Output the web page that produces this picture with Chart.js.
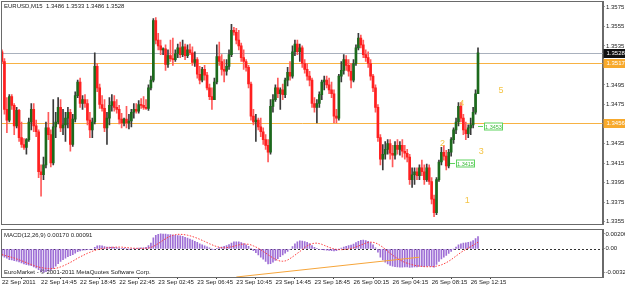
<!DOCTYPE html>
<html>
<head>
<meta charset="utf-8">
<script src="https://cdn.jsdelivr.net/npm/chart.js@4/dist/chart.umd.min.js"></script>
<style>
  html, body { margin: 0; padding: 0; background: #fff; }
  #wrap { position: relative; width: 625px; height: 288px; overflow: hidden; background: #fff; }
  #price { position: absolute; left: 0; top: 0; }
  #macd { position: absolute; left: 0; top: 228px; }
</style>
</head>
<body>
<div id="wrap">
  <canvas id="price" width="625" height="228" style="width:625px;height:228px"></canvas>
  <canvas id="macd" width="625" height="60" style="width:625px;height:60px"></canvas>
</div>
<script>
// EURUSD M15, 22 Sep 10:45 .. 26 Sep 13:00
const chartTitle = 'EURUSD,M15  1.3486 1.3533 1.3486 1.3528';
const macdTitle = 'MACD(12,26,9) 0.00170 0.00091';
const copyright = 'EuroMarket - \u00a9 2001-2011 MetaQuotes Software Corp.';

const tickLabels = ['22 Sep 2011', '22 Sep 14:45', '22 Sep 18:45', '22 Sep 22:45', '23 Sep 02:45',
  '23 Sep 06:45', '23 Sep 10:45', '23 Sep 14:45', '23 Sep 18:45', '26 Sep 00:15', '26 Sep 04:15',
  '26 Sep 08:15', '26 Sep 12:15'];
const barsPerLabel = 16;
const slotCount = 247; // visible bar slots incl. the empty shift on the right

const priceTicks = [1.3355, 1.3375, 1.3395, 1.3415, 1.3435, 1.3455, 1.3475, 1.3495, 1.3515, 1.3535, 1.3555, 1.3575];
const macdTicks = [0.00206, 0, -0.00327];

const opens = [
  1.3529,1.3519,1.3470,1.3459,1.3483,1.3474,1.3453,1.3469,1.3441,1.3434,1.3431,1.3439,1.3457,1.3470,
  1.3453,1.3447,1.3406,1.3403,1.3413,1.3451,1.3444,1.3415,1.3452,1.3457,1.3472,1.3451,1.3454,1.3461,
  1.3467,1.3434,1.3460,1.3484,1.3498,1.3476,1.3480,1.3476,1.3459,1.3449,1.3457,1.3514,1.3492,1.3475,
  1.3471,1.3451,1.3461,1.3474,1.3478,1.3472,1.3470,1.3460,1.3456,1.3460,1.3456,1.3458,1.3467,1.3470,
  1.3468,1.3475,1.3474,1.3472,1.3471,1.3492,1.3500,1.3561,1.3541,1.3535,1.3531,1.3532,1.3516,1.3525,
  1.3522,1.3521,1.3527,1.3533,1.3526,1.3534,1.3525,1.3531,1.3528,1.3518,1.3521,1.3506,1.3500,1.3511,
  1.3505,1.3492,1.3483,1.3480,1.3498,1.3524,1.3519,1.3511,1.3509,1.3514,1.3526,1.3551,1.3549,1.3541,
  1.3535,1.3523,1.3519,1.3513,1.3496,1.3463,1.3457,1.3459,1.3452,1.3447,1.3439,1.3433,1.3426,1.3473,
  1.3480,1.3492,1.3486,1.3490,1.3485,1.3500,1.3508,1.3504,1.3529,1.3537,1.3529,1.3533,1.3517,1.3511,
  1.3504,1.3500,1.3476,1.3472,1.3476,1.3485,1.3498,1.3500,1.3495,1.3490,1.3486,1.3463,1.3461,1.3504,
  1.3510,1.3521,1.3515,1.3509,1.3500,1.3517,1.3533,1.3543,1.3536,1.3526,1.3523,1.3517,1.3504,1.3492,
  1.3472,1.3441,1.3419,1.3424,1.3429,1.3435,1.3425,1.3423,1.3433,1.3429,1.3433,1.3427,1.3425,1.3421,
  1.3398,1.3403,1.3406,1.3402,1.3410,1.3406,1.3398,1.3410,1.3396,1.3378,1.3364,1.3398,1.3416,1.3426,
  1.3422,1.3412,1.3426,1.3439,1.3449,1.3457,1.3473,1.3461,1.3449,1.3445,1.3451,1.3454,1.3467,1.3486
];
const highs = [
  1.3531,1.3522,1.3482,1.3485,1.3485,1.3476,1.3472,1.3470,1.3457,1.3440,1.3440,1.3461,1.3476,1.3476,
  1.3459,1.3449,1.3413,1.3421,1.3457,1.3467,1.3449,1.3480,1.3467,1.3482,1.3480,1.3470,1.3467,1.3472,
  1.3470,1.3465,1.3488,1.3500,1.3502,1.3484,1.3485,1.3480,1.3467,1.3461,1.3528,1.3517,1.3496,1.3484,
  1.3480,1.3467,1.3482,1.3485,1.3484,1.3480,1.3474,1.3466,1.3461,1.3473,1.3465,1.3470,1.3476,1.3476,
  1.3479,1.3481,1.3483,1.3480,1.3495,1.3504,1.3563,1.3564,1.3548,1.3541,1.3533,1.3536,1.3531,1.3541,
  1.3543,1.3531,1.3537,1.3539,1.3541,1.3537,1.3536,1.3537,1.3534,1.3529,1.3523,1.3514,1.3513,1.3515,
  1.3508,1.3496,1.3492,1.3502,1.3536,1.3539,1.3526,1.3521,1.3521,1.3531,1.3557,1.3554,1.3553,1.3551,
  1.3538,1.3531,1.3521,1.3515,1.3498,1.3470,1.3465,1.3461,1.3461,1.3451,1.3444,1.3439,1.3480,1.3485,
  1.3495,1.3502,1.3492,1.3496,1.3502,1.3513,1.3519,1.3535,1.3541,1.3541,1.3537,1.3535,1.3521,1.3517,
  1.3509,1.3502,1.3482,1.3480,1.3488,1.3500,1.3504,1.3504,1.3502,1.3498,1.3490,1.3470,1.3506,1.3519,
  1.3526,1.3525,1.3521,1.3517,1.3521,1.3536,1.3548,1.3546,1.3541,1.3531,1.3529,1.3521,1.3506,1.3495,
  1.3475,1.3444,1.3434,1.3437,1.3439,1.3439,1.3433,1.3437,1.3439,1.3437,1.3439,1.3433,1.3429,1.3424,
  1.3410,1.3410,1.3410,1.3413,1.3418,1.3413,1.3414,1.3413,1.3400,1.3382,1.3400,1.3418,1.3431,1.3433,
  1.3428,1.3429,1.3441,1.3451,1.3461,1.3477,1.3477,1.3465,1.3457,1.3454,1.3461,1.3472,1.3490,1.3533
];
const lows = [
  1.3517,1.3465,1.3446,1.3457,1.3470,1.3444,1.3451,1.3437,1.3431,1.3429,1.3424,1.3437,1.3449,1.3447,
  1.3442,1.3400,1.3381,1.3398,1.3410,1.3439,1.3411,1.3413,1.3441,1.3455,1.3447,1.3444,1.3437,1.3451,
  1.3427,1.3432,1.3457,1.3482,1.3472,1.3470,1.3472,1.3454,1.3441,1.3441,1.3455,1.3488,1.3471,1.3468,
  1.3447,1.3434,1.3454,1.3468,1.3468,1.3466,1.3455,1.3451,1.3453,1.3451,1.3450,1.3452,1.3461,1.3466,
  1.3466,1.3471,1.3470,1.3470,1.3469,1.3490,1.3498,1.3537,1.3531,1.3526,1.3526,1.3510,1.3513,1.3519,
  1.3515,1.3519,1.3523,1.3523,1.3524,1.3521,1.3523,1.3526,1.3515,1.3514,1.3502,1.3496,1.3498,1.3500,
  1.3490,1.3480,1.3470,1.3480,1.3496,1.3515,1.3505,1.3498,1.3505,1.3511,1.3524,1.3546,1.3537,1.3531,
  1.3519,1.3511,1.3509,1.3492,1.3459,1.3454,1.3437,1.3449,1.3442,1.3434,1.3429,1.3416,1.3424,1.3467,
  1.3478,1.3482,1.3470,1.3480,1.3482,1.3494,1.3500,1.3502,1.3525,1.3526,1.3519,1.3513,1.3507,1.3500,
  1.3494,1.3472,1.3467,1.3456,1.3472,1.3480,1.3490,1.3492,1.3486,1.3482,1.3456,1.3456,1.3459,1.3498,
  1.3506,1.3510,1.3504,1.3492,1.3498,1.3515,1.3531,1.3533,1.3523,1.3519,1.3513,1.3500,1.3488,1.3467,
  1.3437,1.3413,1.3408,1.3419,1.3424,1.3419,1.3411,1.3419,1.3424,1.3423,1.3421,1.3419,1.3416,1.3393,
  1.3390,1.3393,1.3398,1.3398,1.3402,1.3393,1.3396,1.3393,1.3373,1.3360,1.3362,1.3396,1.3413,1.3418,
  1.3408,1.3410,1.3422,1.3435,1.3445,1.3453,1.3457,1.3444,1.3439,1.3441,1.3444,1.3451,1.3465,1.3486
];
const closes = [
  1.3519,1.3470,1.3459,1.3483,1.3474,1.3453,1.3469,1.3441,1.3434,1.3431,1.3439,1.3457,1.3470,1.3453,
  1.3447,1.3406,1.3403,1.3413,1.3451,1.3444,1.3415,1.3452,1.3457,1.3472,1.3451,1.3454,1.3461,1.3467,
  1.3434,1.3460,1.3484,1.3498,1.3476,1.3480,1.3476,1.3459,1.3449,1.3457,1.3514,1.3492,1.3475,1.3471,
  1.3451,1.3461,1.3474,1.3478,1.3472,1.3470,1.3460,1.3456,1.3460,1.3456,1.3458,1.3467,1.3470,1.3468,
  1.3475,1.3474,1.3472,1.3471,1.3492,1.3500,1.3561,1.3541,1.3535,1.3531,1.3532,1.3516,1.3525,1.3522,
  1.3521,1.3527,1.3533,1.3526,1.3534,1.3525,1.3531,1.3528,1.3518,1.3521,1.3506,1.3500,1.3511,1.3505,
  1.3492,1.3483,1.3480,1.3498,1.3524,1.3519,1.3511,1.3509,1.3514,1.3526,1.3551,1.3549,1.3541,1.3535,
  1.3523,1.3519,1.3513,1.3496,1.3463,1.3457,1.3459,1.3452,1.3447,1.3439,1.3433,1.3426,1.3473,1.3480,
  1.3492,1.3486,1.3490,1.3485,1.3500,1.3508,1.3504,1.3529,1.3537,1.3529,1.3533,1.3517,1.3511,1.3504,
  1.3500,1.3476,1.3472,1.3476,1.3485,1.3498,1.3500,1.3495,1.3490,1.3486,1.3463,1.3461,1.3504,1.3510,
  1.3521,1.3515,1.3509,1.3500,1.3517,1.3533,1.3543,1.3536,1.3526,1.3523,1.3517,1.3504,1.3492,1.3472,
  1.3441,1.3419,1.3424,1.3429,1.3435,1.3425,1.3423,1.3433,1.3429,1.3433,1.3427,1.3425,1.3421,1.3398,
  1.3403,1.3406,1.3402,1.3410,1.3406,1.3398,1.3410,1.3396,1.3378,1.3364,1.3398,1.3416,1.3426,1.3422,
  1.3412,1.3426,1.3439,1.3449,1.3457,1.3473,1.3461,1.3449,1.3445,1.3451,1.3454,1.3467,1.3486,1.3528
];

const macdMain = [
  -0.00100,-0.00115,-0.00130,-0.00150,-0.00155,-0.00165,-0.00170,-0.00180,-0.00195,-0.00210,-0.00220,-0.00225,-0.00235,-0.00250,
  -0.00265,-0.00290,-0.00315,-0.00325,-0.00315,-0.00305,-0.00295,-0.00270,-0.00240,-0.00205,-0.00175,-0.00150,-0.00130,-0.00110,
  -0.00095,-0.00080,-0.00060,-0.00040,-0.00030,-0.00020,-0.00015,-0.00012,-0.00010,-0.00008,0.00020,0.00040,0.00045,0.00040,
  0.00030,0.00025,0.00025,0.00025,0.00020,0.00018,0.00010,0.00005,0.00003,0.00000,-0.00003,0.00000,0.00005,0.00008,
  0.00010,0.00012,0.00015,0.00020,0.00045,0.00080,0.00150,0.00185,0.00200,0.00206,0.00204,0.00202,0.00198,0.00195,
  0.00190,0.00185,0.00182,0.00178,0.00172,0.00160,0.00148,0.00135,0.00120,0.00105,0.00088,0.00070,0.00055,0.00042,
  0.00028,0.00012,-0.00005,-0.00008,0.00005,0.00018,0.00025,0.00035,0.00045,0.00058,0.00080,0.00095,0.00098,0.00095,
  0.00085,0.00072,0.00055,0.00035,0.00005,-0.00025,-0.00055,-0.00085,-0.00115,-0.00145,-0.00175,-0.00210,-0.00205,-0.00185,
  -0.00160,-0.00135,-0.00110,-0.00085,-0.00060,-0.00035,-0.00010,0.00030,0.00070,0.00095,0.00110,0.00108,0.00100,0.00088,
  0.00072,0.00045,0.00022,0.00005,-0.00008,-0.00012,-0.00015,-0.00020,-0.00022,-0.00025,-0.00030,-0.00025,-0.00005,0.00010,
  0.00025,0.00035,0.00045,0.00050,0.00065,0.00085,0.00105,0.00118,0.00122,0.00115,0.00102,0.00085,0.00055,0.00015,
  -0.00045,-0.00115,-0.00155,-0.00185,-0.00210,-0.00230,-0.00240,-0.00248,-0.00252,-0.00255,-0.00255,-0.00252,-0.00250,-0.00258,
  -0.00255,-0.00252,-0.00250,-0.00245,-0.00245,-0.00248,-0.00240,-0.00238,-0.00245,-0.00255,-0.00215,-0.00175,-0.00140,-0.00115,
  -0.00090,-0.00065,-0.00035,-0.00005,0.00025,0.00055,0.00070,0.00078,0.00082,0.00088,0.00098,0.00115,0.00140,0.00170
];
const macdSignal = [
  -0.00080,-0.00090,-0.00100,-0.00110,-0.00118,-0.00128,-0.00140,-0.00152,-0.00165,-0.00178,-0.00192,-0.00205,-0.00218,-0.00230,
  -0.00242,-0.00252,-0.00260,-0.00266,-0.00270,-0.00273,-0.00274,-0.00273,-0.00270,-0.00262,-0.00250,-0.00238,-0.00222,-0.00205,
  -0.00188,-0.00170,-0.00150,-0.00130,-0.00112,-0.00095,-0.00078,-0.00062,-0.00048,-0.00035,-0.00022,-0.00012,-0.00004,0.00002,
  0.00008,0.00012,0.00016,0.00020,0.00022,0.00024,0.00024,0.00023,0.00020,0.00017,0.00014,0.00011,0.00008,0.00007,
  0.00006,0.00006,0.00006,0.00007,0.00010,0.00018,0.00032,0.00052,0.00072,0.00095,0.00118,0.00140,0.00160,0.00175,
  0.00188,0.00196,0.00200,0.00200,0.00198,0.00194,0.00188,0.00180,0.00170,0.00158,0.00146,0.00132,0.00117,0.00102,
  0.00086,0.00070,0.00056,0.00042,0.00030,0.00022,0.00016,0.00014,0.00015,0.00020,0.00028,0.00036,0.00045,0.00054,
  0.00062,0.00066,0.00066,0.00062,0.00054,0.00040,0.00025,0.00008,-0.00012,-0.00035,-0.00058,-0.00082,-0.00105,-0.00125,
  -0.00145,-0.00160,-0.00170,-0.00172,-0.00168,-0.00155,-0.00135,-0.00112,-0.00088,-0.00062,-0.00038,-0.00010,0.00018,0.00040,
  0.00058,0.00070,0.00078,0.00078,0.00072,0.00062,0.00048,0.00034,0.00020,0.00008,-0.00002,-0.00008,-0.00012,-0.00012,
  -0.00010,-0.00007,-0.00002,0.00005,0.00014,0.00025,0.00038,0.00052,0.00066,0.00078,0.00088,0.00092,0.00090,0.00082,
  0.00066,0.00045,0.00022,-0.00005,-0.00035,-0.00062,-0.00088,-0.00112,-0.00135,-0.00155,-0.00172,-0.00188,-0.00200,-0.00210,
  -0.00220,-0.00228,-0.00235,-0.00240,-0.00244,-0.00247,-0.00248,-0.00248,-0.00247,-0.00246,-0.00240,-0.00232,-0.00222,-0.00208,
  -0.00192,-0.00172,-0.00150,-0.00125,-0.00100,-0.00075,-0.00050,-0.00028,-0.00008,0.00012,0.00030,0.00050,0.00070,0.00091
];

// objects on the chart
const bidPrice = 1.3528;
const levelPrices = [1.3517, 1.3456];
const levelTags = ['1.3517', '1.3456'];
const waveNames = ['1', '2', '3', '4', '5'];
const waveBars = [190.6, 180.5, 196.3, 188.3, 204.4];
const wavePrices = [1.3377, 1.3435, 1.3427, 1.3476, 1.3489];
const tagPrices = [1.3453, 1.3415];
const tagBars = [195, 183.5];
const trendBars = [96, 171];
const trendValues = [-0.0039, -0.00116];

const slots = Array.from({ length: slotCount }, (_, i) => i);
const isUp = i => closes[i] >= opens[i];
const axisFont = { family: 'Liberation Sans', size: 6 };
const frameColor = '#6a6a6a';

// keep Chart.js from adding label room around the plot area
const noPad = ax => { ax.paddingTop = 0; ax.paddingBottom = 0; ax.paddingLeft = 0; ax.paddingRight = 0; };

function hline(ctx, area, py) {
  const yy = Math.round(py) + 0.5;
  ctx.beginPath();
  ctx.moveTo(area.left, yy);
  ctx.lineTo(area.right, yy);
  ctx.stroke();
}

function frame(ctx, a) {
  ctx.strokeStyle = frameColor;
  ctx.lineWidth = 1;
  ctx.strokeRect(Math.round(a.left) - 0.5, Math.round(a.top) - 0.5,
    Math.round(a.right - a.left) + 1, Math.round(a.bottom - a.top) + 1);
}

const priceDecor = {
  id: 'priceDecor',
  beforeDatasetsDraw(chart) {
    const { ctx, chartArea: a, scales: { y } } = chart;
    ctx.save();
    ctx.lineWidth = 1;
    ctx.strokeStyle = '#a9b1bd';
    hline(ctx, a, y.getPixelForValue(bidPrice));
    ctx.strokeStyle = '#f7b243';
    levelPrices.forEach(p => hline(ctx, a, y.getPixelForValue(p)));
    ctx.restore();
  },
  afterDraw(chart) {
    const { ctx, chartArea: a, scales: { x, y } } = chart;
    ctx.save();
    frame(ctx, a);

    ctx.font = '6px "Liberation Sans"';
    ctx.textBaseline = 'middle';
    ctx.textAlign = 'left';
    ctx.fillStyle = '#222';
    ctx.fillText(chartTitle, 4, 6.5);

    // price tags on the right scale
    const tag = (p, text, bg, fg) => {
      const py = Math.round(y.getPixelForValue(p));
      ctx.fillStyle = bg;
      ctx.fillRect(a.right + 1, py - 4, 625 - a.right, 9);
      ctx.fillStyle = fg;
      ctx.textAlign = 'left';
      ctx.fillText(text, a.right + 4, py + 0.5);
    };
    levelPrices.forEach((p, k) => tag(p, levelTags[k], '#f7a92c', '#fff'));
    tag(bidPrice, bidPrice.toFixed(4), '#111', '#fff');

    // wave counts
    ctx.save();
    ctx.beginPath();
    ctx.rect(a.left, a.top, a.right - a.left, a.bottom - a.top);
    ctx.clip();
    ctx.font = '9px "Liberation Sans"';
    ctx.fillStyle = '#f4c445';
    ctx.textAlign = 'center';
    waveNames.forEach((n, k) => {
      ctx.fillText(n, x.getPixelForValue(waveBars[k]), y.getPixelForValue(wavePrices[k]));
    });

    // green price labels
    ctx.font = '5.5px "Liberation Sans"';
    tagPrices.forEach((p, k) => {
      const px = Math.round(x.getPixelForValue(tagBars[k]));
      const py = Math.round(y.getPixelForValue(p)) + 0.5;
      ctx.strokeStyle = '#5fd35f';
      ctx.lineWidth = 1;
      ctx.beginPath();
      ctx.moveTo(px, py);
      ctx.lineTo(px + 5, py);
      ctx.stroke();
      ctx.fillStyle = '#fff';
      ctx.fillRect(px + 6.5, py - 3.5, 18, 7);
      ctx.strokeRect(px + 6.5, py - 3.5, 18, 7);
      ctx.fillStyle = '#3dbb3d';
      ctx.fillText(p.toFixed(4), px + 15.5, py + 0.5);
    });
    ctx.restore();
    ctx.restore();
  }
};

new Chart(document.getElementById('price'), {
  type: 'bar',
  data: {
    labels: slots,
    datasets: [
      {
        data: opens.map((o, i) => [o, closes[i]]),
        barThickness: 2,
        minBarLength: 1,
        grouped: false,
        order: 0,
        backgroundColor: c => isUp(c.dataIndex) ? '#1c6a1c' : '#ff1f1f'
      },
      {
        data: lows.map((l, i) => [l, highs[i]]),
        barThickness: 1,
        grouped: false,
        order: 1,
        backgroundColor: c => isUp(c.dataIndex) ? '#3a3a3a' : '#ff5a5a'
      }
    ]
  },
  options: {
    responsive: false,
    animation: false,
    layout: { padding: { left: 2, top: 2, right: 0, bottom: 4.5 } },
    plugins: { legend: { display: false }, tooltip: { enabled: false } },
    scales: {
      x: { type: 'category', offset: false, display: false, grid: { display: false }, afterFit: noPad },
      y: {
        position: 'right',
        min: 1.3353,
        max: 1.3580,
        afterBuildTicks: ax => { ax.ticks = priceTicks.map(v => ({ value: v })); },
        afterFit: ax => { ax.width = 22.5; noPad(ax); },
        ticks: { callback: v => v.toFixed(4), font: axisFont, color: '#222', padding: 1.5 },
        grid: { drawOnChartArea: false, tickLength: 2, color: '#444' },
        border: { color: frameColor }
      }
    }
  },
  plugins: [priceDecor]
});

const trendData = slots.map(() => null);
trendBars.forEach((b, k) => { trendData[b] = trendValues[k]; });

const macdDecor = {
  id: 'macdDecor',
  beforeDatasetsDraw(chart) {
    const { ctx, chartArea: a, scales: { y } } = chart;
    ctx.save();
    ctx.strokeStyle = '#333';
    ctx.lineWidth = 1;
    ctx.setLineDash([2, 2]);
    hline(ctx, a, y.getPixelForValue(0));
    ctx.restore();
  },
  afterDraw(chart) {
    const { ctx, chartArea: a } = chart;
    ctx.save();
    frame(ctx, a);
    ctx.font = '6px "Liberation Sans"';
    ctx.textBaseline = 'middle';
    ctx.textAlign = 'left';
    ctx.fillStyle = '#222';
    ctx.fillText(macdTitle, 4, 7.5);
    ctx.fillText(copyright, 4, 44.5);
    ctx.restore();
  }
};

new Chart(document.getElementById('macd'), {
  type: 'bar',
  data: {
    labels: slots,
    datasets: [
      {
        type: 'line',
        data: macdSignal,
        borderColor: '#ff3d3d',
        borderWidth: 1,
        borderDash: [1.5, 1.5],
        pointRadius: 0,
        order: 0
      },
      {
        type: 'line',
        data: trendData,
        borderColor: '#f6a53a',
        borderWidth: 1,
        pointRadius: 0,
        spanGaps: true,
        order: 1
      },
      {
        data: macdMain,
        backgroundColor: '#9f6fd6',
        barThickness: 1,
        order: 2
      }
    ]
  },
  options: {
    responsive: false,
    animation: false,
    layout: { padding: { left: 2, top: 2, right: 0, bottom: 0 } },
    plugins: { legend: { display: false }, tooltip: { enabled: false } },
    scales: {
      x: {
        type: 'category',
        offset: false,
        afterBuildTicks: ax => { ax.ticks = tickLabels.map((_, k) => ({ value: k * barsPerLabel })); },
        afterFit: ax => { ax.height = 11; noPad(ax); },
        ticks: {
          autoSkip: false, maxRotation: 0, minRotation: 0, align: 'start',
          callback: v => tickLabels[v / barsPerLabel],
          font: axisFont, color: '#222', padding: 0
        },
        grid: { drawOnChartArea: false, tickLength: 2, color: '#444' },
        border: { color: frameColor }
      },
      y: {
        position: 'right',
        min: -0.0039,
        max: 0.0026,
        afterBuildTicks: ax => { ax.ticks = macdTicks.map(v => ({ value: v })); },
        afterFit: ax => { ax.width = 22.5; noPad(ax); },
        ticks: { callback: v => v === 0 ? '0.00' : v.toFixed(5), font: axisFont, color: '#222', padding: 1 },
        grid: { drawOnChartArea: false, tickLength: 2, color: '#444' },
        border: { color: frameColor }
      }
    }
  },
  plugins: [macdDecor]
});
</script>
</body>
</html>
